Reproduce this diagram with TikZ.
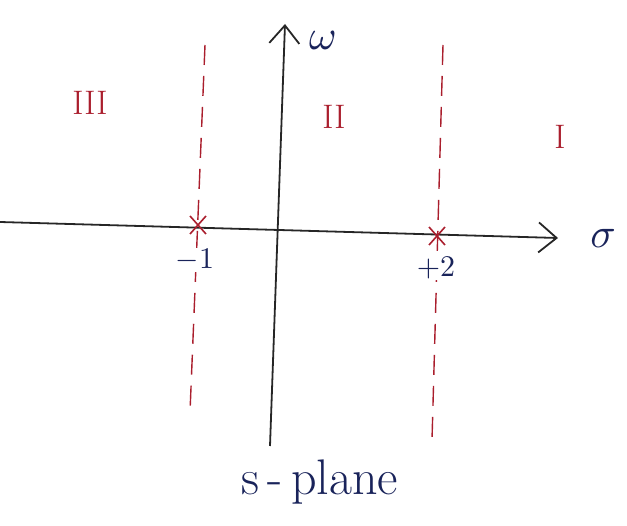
\documentclass[tikz,border=0pt]{standalone}
\usetikzlibrary{arrows.meta,calc}
\definecolor{ink}{RGB}{25,35,90}
\definecolor{redink}{RGB}{170,30,45}
\tikzset{
  axis/.style={line width=1.8pt, black!85, -{Straight Barb[length=18pt,width=30pt,line width=1.8pt]}},
  poleline/.style={redink, line width=1.4pt, dash pattern=on 20pt off 11pt},
  cross/.style={redink, line width=1.6pt},
  region/.style={text=redink, font=\fontsize{34}{34}\selectfont},
  lbl/.style={text=ink},
  ticklbl/.style={text=ink, fill=white, inner sep=1pt},
}
\begin{document}
\begin{tikzpicture}[x=1pt,y=-1pt]
\useasboundingbox (0,0) rectangle (627,526);
% axes
\coordinate (sl) at (0,222);
\coordinate (sr) at (558,238);
\coordinate (wb) at (270,446);
\coordinate (wt) at (285,24);
\draw[axis] (sl) -- (sr);
\draw[axis] (wb) -- (wt);
\node[lbl] (sigma) at (603,238) {\scalebox{4.2}{$\sigma$}};
\node[lbl] (omega) at (323,40) {\scalebox{4.2}{$\omega$}};
% pole lines
\coordinate (l1t) at (205,45);
\coordinate (l1b) at (190,412);
\coordinate (l2t) at (443,45);
\coordinate (l2b) at (432,440);
\draw[poleline] (l1t) -- (l1b);
\draw[poleline] (l2t) -- (l2b);
% crosses
\coordinate (p1) at (198,225);
\coordinate (p2) at (437,236);
\draw[cross] ($(p1)+(-8,-9)$) -- ($(p1)+(8,9)$) ($(p1)+(8,-9)$) -- ($(p1)+(-8,9)$);
\draw[cross] ($(p2)+(-8,-9)$) -- ($(p2)+(8,9)$) ($(p2)+(8,-9)$) -- ($(p2)+(-8,9)$);
\node[ticklbl] (m1) at (195,260) {\scalebox{3}{$-1$}};
\node[ticklbl] (p2l) at (436,268) {\scalebox{3}{$+2$}};
% regions
\node[region] (r3) at (90,103) {III};
\node[region] (r2) at (334,117) {II};
\node[region] (r1) at (560,137) {I};
% caption
\node[text=ink, font=\fontsize{50}{50}\selectfont] (cap) at (320,482) {s\,-\,plane};
\end{tikzpicture}
\end{document}
